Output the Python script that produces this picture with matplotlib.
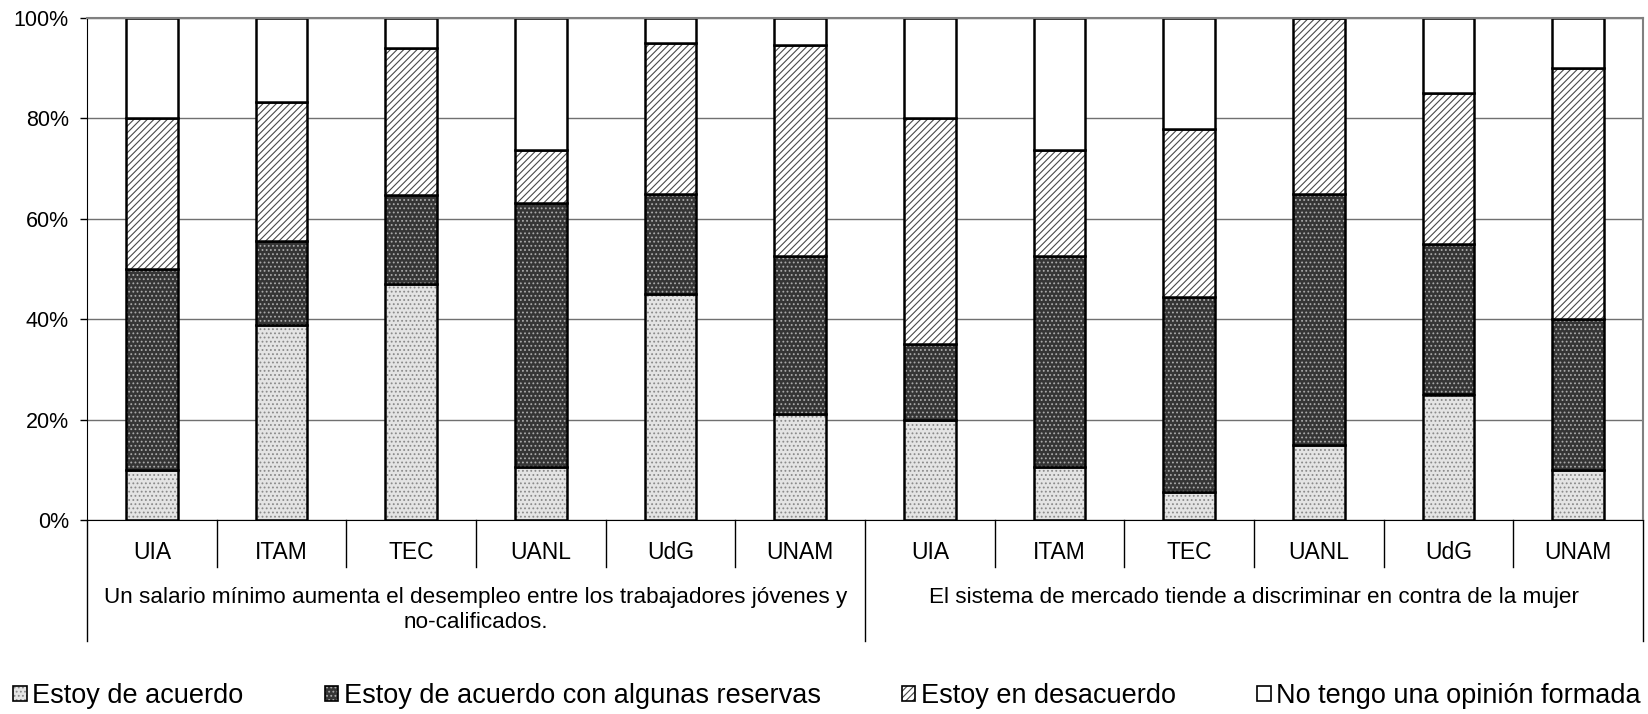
import numpy as np
import matplotlib
matplotlib.use("Agg")
import matplotlib.pyplot as plt
from matplotlib.patches import Patch
from matplotlib.legend_handler import HandlerTuple

plt.rcParams['font.family'] = ['Liberation Sans', 'DejaVu Sans']
plt.rcParams['hatch.linewidth'] = 0.8

# datos (porcentajes)
universidades = ['UIA', 'ITAM', 'TEC', 'UANL', 'UdG', 'UNAM']
preguntas = ['Un salario mínimo aumenta el desempleo entre los trabajadores jóvenes y\nno-calificados.',
             'El sistema de mercado tiende a discriminar en contra de la mujer']
respuestas = ['Estoy de acuerdo', 'Estoy de acuerdo con algunas reservas',
              'Estoy en desacuerdo', 'No tengo una opinión formada']

acuerdo = [10, 38.9, 47.1, 10.5, 45, 21.1, 20, 10.5, 5.6, 15, 25, 10]
reservas = [40, 16.7, 17.6, 52.6, 20, 31.6, 15, 42.1, 38.9, 50, 30, 30]
desacuerdo = [30, 27.8, 29.4, 10.5, 30, 42.1, 45, 21.1, 33.3, 35, 30, 50]
sin_opinion = [20, 16.7, 5.9, 26.3, 5, 5.3, 20, 26.3, 22.2, 0, 15, 10]

# estilos de cada serie: (relleno, trama, color de trama)
estilos = [('#e4e4e4', '....', '#8a8a8a'),
           ('#353535', '....', '#aaaaaa'),
           ('#ffffff', '/////', '#4a4a4a'),
           ('#ffffff', '', '#ffffff')]

series = np.array([acuerdo, reservas, desacuerdo, sin_opinion], dtype=float)
series = series / series.sum(axis=0) * 100  # 100% apilado

etiquetas = universidades * len(preguntas)
x = np.arange(len(etiquetas))

fig = plt.figure(figsize=(16.48, 7.14), dpi=100)
ax = fig.add_axes([87 / 1648, 1 - 520 / 714, (1643 - 87) / 1648, 502 / 714])

ax.set_axisbelow(True)
ax.yaxis.grid(True, color='#707070', linewidth=1.0)

bottom = np.zeros(len(x))
for vals, (fc, hatch, hc) in zip(series, estilos):
    ax.bar(x, vals, 0.4, bottom=bottom, color=fc, hatch=hatch, edgecolor=hc, linewidth=0)
    ax.bar(x, vals, 0.4, bottom=bottom, fill=False, edgecolor='black', linewidth=1.8)
    bottom += vals

ax.set_xlim(-0.5, len(x) - 0.5)
ax.set_ylim(0, 100)
ax.set_yticks(np.arange(0, 101, 20))
ax.set_yticklabels([f'{v}%' for v in range(0, 101, 20)])
ax.tick_params(axis='y', labelsize=15.5, length=5, width=1, pad=8, color='black')
ax.set_xticks([])

ax.spines['left'].set_color('black')
ax.spines['bottom'].set_color('black')
ax.spines['top'].set_color('#808080')
ax.spines['top'].set_linewidth(1.5)
ax.spines['right'].set_color('#808080')
ax.spines['right'].set_linewidth(1.5)

# ejes de categorias de dos niveles
trans = ax.get_xaxis_transform()
for i, lab in enumerate(etiquetas):
    ax.text(i, -0.064, lab, transform=trans, ha='center', va='center', fontsize=16.5)
for k in range(1, len(etiquetas)):
    if k % len(universidades) == 0:
        continue
    ax.plot([k - 0.5, k - 0.5], [0, -0.093], transform=trans, color='black',
            linewidth=1, clip_on=False)
for g in range(len(preguntas) + 1):
    xs = g * len(universidades) - 0.5
    ax.plot([xs, xs], [0, -0.241], transform=trans, color='black', linewidth=1, clip_on=False)
for g, texto in enumerate(preguntas):
    xc = g * len(universidades) + (len(universidades) - 1) / 2
    ax.text(xc, -0.134, texto, transform=trans, ha='center', va='top', fontsize=16.2,
            linespacing=1.25, multialignment='center')

# leyenda
handles = []
for fc, hatch, hc in estilos:
    relleno = Patch(facecolor=fc, hatch=hatch, edgecolor=hc, linewidth=0)
    borde = Patch(fill=False, edgecolor='black', linewidth=1.2)
    handles.append((relleno, borde))
fig.legend(handles, respuestas, loc='center', bbox_to_anchor=(827 / 1648, 1 - 696 / 714),
           ncol=4, frameon=False, fontsize=19.5, handlelength=0.5, handleheight=0.5,
           handletextpad=0.2, columnspacing=3.0,
           handler_map={tuple: HandlerTuple(ndivide=1, pad=0)})

fig.savefig('out.png', dpi=100)
